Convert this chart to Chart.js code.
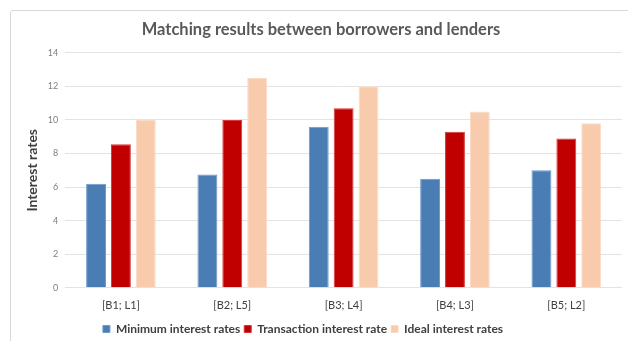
<!DOCTYPE html>
<html lang="en">
<head>
<meta charset="UTF-8">
<title>Matching results between borrowers and lenders</title>
<script src="https://cdn.jsdelivr.net/npm/chart.js@4.4.0/dist/chart.umd.min.js"></script>
<style>
    html, body { margin: 0; padding: 0; background: #fff; }
    body { width: 628px; height: 341px; overflow: hidden; position: relative; }
    .frame {
        position: absolute; left: 10px; top: 10px; width: 640px; height: 360px;
        border: 1px solid #d9d9d9; border-radius: 3px;
    }
    #chart { position: absolute; left: 0; top: 0; }
</style>
</head>
<body>
<div class="frame"></div>
<canvas id="chart" width="628" height="341"></canvas>
<script>
    var chartTitle = "Matching results between borrowers and lenders";
    var axisTitle = "Interest rates";
    var pairs = ["[B1; L1]", "[B2; L5]", "[B3; L4]", "[B4; L3]", "[B5; L2]"];
    var seriesNames = ["Minimum interest rates", "Transaction interest rate", "Ideal interest rates"];
    var minimumRates = [6.2, 6.75, 9.6, 6.5, 7.0];
    var transactionRates = [8.55, 10.0, 10.7, 9.3, 8.9];
    var idealRates = [10.0, 12.5, 12.0, 10.5, 9.8];
    var yTicks = [0, 2, 4, 6, 8, 10, 12, 14];

    var fillColors = ["#4a7db4", "#c00000", "#f8cbad"];
    var edgeColors = ["#6f98c8", "#d43a3a", "#fadcc6"];
    var seriesData = [minimumRates, transactionRates, idealRates];

    var datasets = seriesData.map(function (vals, i) {
        return {
            label: seriesNames[i],
            data: vals,
            backgroundColor: fillColors[i],
            borderColor: edgeColors[i],
            borderWidth: 1,
            barPercentage: 0.8,
            categoryPercentage: 0.67
        };
    });

    // nudge the legend a bit left and down, like the original
    var legendNudge = {
        id: "legendNudge",
        afterLayout: function (chart) {
            var lg = chart.legend;
            lg.left -= 18; lg.right -= 18;
            lg.top += 4; lg.bottom += 4;
        }
    };

    Chart.defaults.font.family = "Lato, 'Open Sans', sans-serif";

    new Chart(document.getElementById("chart").getContext("2d"), {
        type: "bar",
        data: { labels: pairs, datasets: datasets },
        plugins: [legendNudge],
        options: {
            responsive: false,
            animation: false,
            layout: { padding: { left: 20, right: 6, top: 12, bottom: 0 } },
            plugins: {
                title: {
                    display: true,
                    text: chartTitle,
                    color: "#595959",
                    font: { size: 16.5, weight: "bold" },
                    padding: { top: 8, bottom: 13 }
                },
                legend: {
                    position: "bottom",
                    labels: {
                        boxWidth: 7,
                        boxHeight: 7,
                        color: "#404040",
                        font: { size: 12, weight: "bold" },
                        padding: 4
                    }
                },
                tooltip: { enabled: false }
            },
            scales: {
                x: {
                    grid: { display: false },
                    border: { display: false },
                    ticks: { color: "#404040", font: { size: 11 }, padding: 3 }
                },
                y: {
                    min: 0,
                    max: 14,
                    afterBuildTicks: function (axis) {
                        axis.ticks = yTicks.map(function (v) { return { value: v }; });
                    },
                    grid: { color: "#e3e3e3", lineWidth: 1, drawTicks: false },
                    border: { display: false },
                    ticks: { color: "#7f7f7f", font: { size: 9 }, padding: 7 },
                    title: {
                        display: true,
                        text: axisTitle,
                        color: "#404040",
                        font: { size: 14, weight: "bold" },
                        padding: { bottom: 0 }
                    }
                }
            }
        }
    });
</script>
</body>
</html>
